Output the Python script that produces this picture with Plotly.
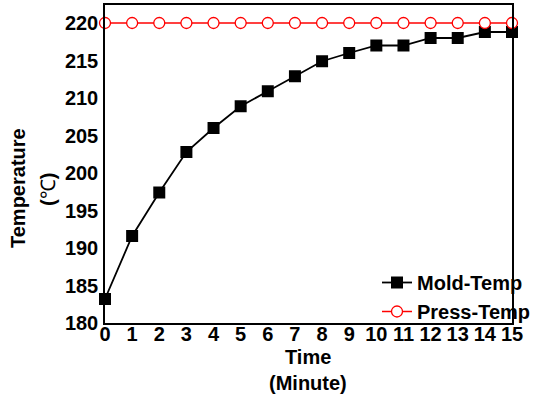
import plotly.graph_objects as go

time_min = list(range(16))
mold_temp = [183.2, 191.6, 197.4, 202.8, 206.0, 208.9, 210.9, 212.9, 214.9, 216.0, 217.0, 217.0, 218.0, 218.0, 218.8, 218.8]
press_temp = [220.0] * 16
x_ticks = list(range(16))
y_ticks = [180, 185, 190, 195, 200, 205, 210, 215, 220]

FONT = "Liberation Sans"
FS = 20

# plot area in pixels
L, R, T, B = 105, 512, 5, 323
W, H = 550, 399
PW, PH = R - L, B - T


def px_x(x):
    return (x - L) / PW


def px_y(y):
    return (B - y) / PH


fig = go.Figure()
fig.add_trace(go.Scatter(
    x=time_min, y=mold_temp, name="Mold-Temp", mode="lines+markers",
    line=dict(color="black", width=1.8),
    marker=dict(symbol="square", size=12, color="black"),
    cliponaxis=False,
))
fig.add_trace(go.Scatter(
    x=time_min, y=press_temp, name="Press-Temp", mode="lines+markers",
    line=dict(color="#ff0000", width=1.5),
    marker=dict(symbol="circle", size=11, color="white", line=dict(color="#ff0000", width=1.3)),
    cliponaxis=False,
))

fig.update_layout(
    width=W, height=H,
    margin=dict(l=L, r=W - R, t=T, b=H - B, autoexpand=False),
    paper_bgcolor="white", plot_bgcolor="white",
    font=dict(family=FONT, size=FS, color="black"),
    showlegend=True,
    legend=dict(
        x=px_x(377), y=px_y(263), xanchor="left", yanchor="top",
        bgcolor="rgba(0,0,0,0)", borderwidth=0,
        font=dict(family=FONT, size=FS, color="black", weight="bold"),
        tracegroupgap=0,
    ),
    xaxis=dict(
        range=[0, 15], tickvals=x_ticks, ticks="", showgrid=False, zeroline=False,
        showline=True, linecolor="black", linewidth=1.5, mirror=True,
        tickfont=dict(family=FONT, size=FS, weight="bold"),
        ticklabelstandoff=-8, automargin=False,
    ),
    yaxis=dict(
        range=[180, 222.4], tickvals=y_ticks, ticks="", showgrid=False, zeroline=False,
        showline=True, linecolor="black", linewidth=1.5, mirror=True,
        tickfont=dict(family=FONT, size=FS, weight="bold"),
        ticklabelstandoff=1, automargin=False,
    ),
    annotations=[
        dict(text="<b>Temperature</b>", xref="paper", yref="paper", x=px_x(18), y=px_y(188),
             textangle=-90, showarrow=False, xanchor="center", yanchor="middle",
             font=dict(family=FONT, size=FS)),
        dict(text="<b>(</b>℃<b>)</b>", xref="paper", yref="paper", x=px_x(48), y=px_y(190),
             textangle=-90, showarrow=False, xanchor="center", yanchor="middle",
             font=dict(family=FONT, size=FS)),
        dict(text="<b>Time</b>", xref="paper", yref="paper", x=px_x(308), y=px_y(357),
             showarrow=False, xanchor="center", yanchor="middle",
             font=dict(family=FONT, size=FS)),
        dict(text="<b>(Minute)</b>", xref="paper", yref="paper", x=px_x(308), y=px_y(383),
             showarrow=False, xanchor="center", yanchor="middle",
             font=dict(family=FONT, size=FS)),
    ],
)

fig.write_html(
    "out.html",
    config={"displayModeBar": False},
    post_script="document.body.style.margin='0';document.body.style.overflow='hidden';",
)
